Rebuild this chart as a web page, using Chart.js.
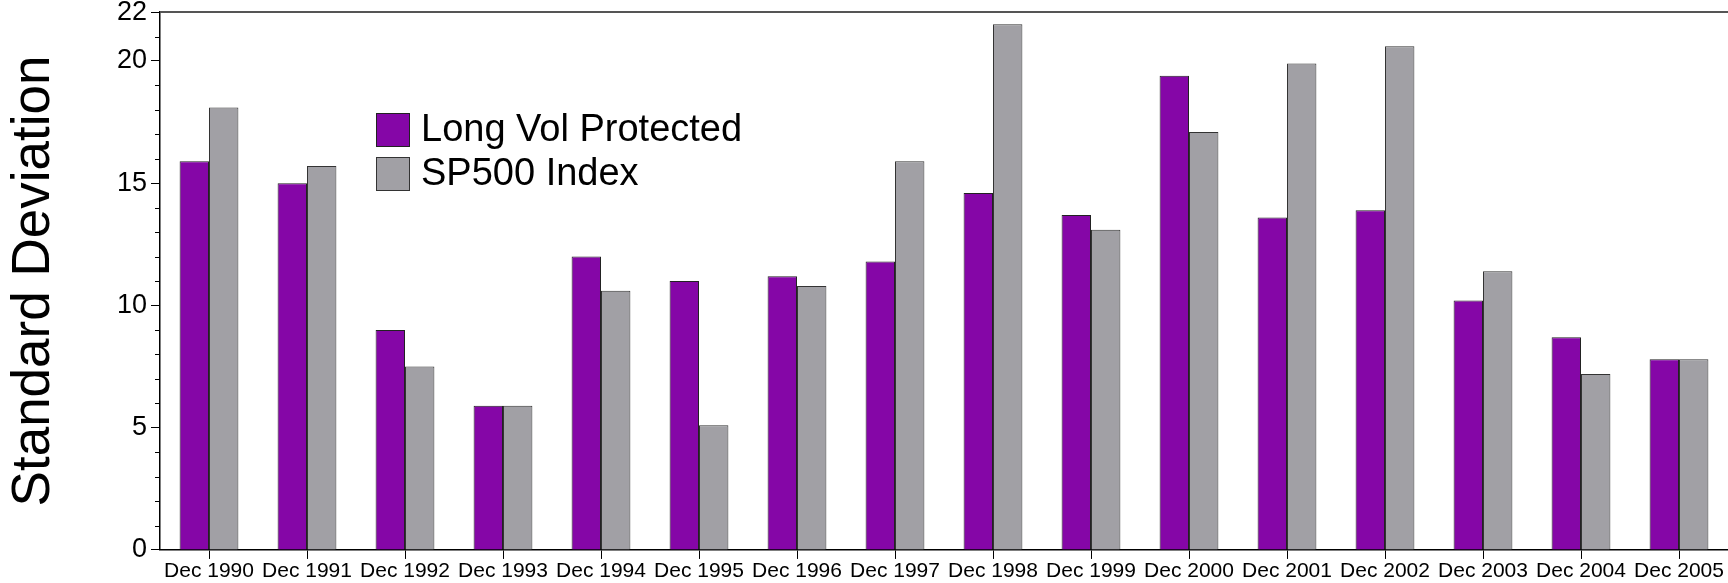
<!doctype html>
<html>
<head>
<title>Standard Deviation</title>
<script src="https://cdn.jsdelivr.net/npm/chart.js@4.4.0/dist/chart.umd.min.js"></script>
<style>
  body { margin: 0; background: #fff; }
</style>
</head>
<body>
<canvas id="chart-area" width="1728" height="583"></canvas>
<script>
var labels = ['Dec 1990', 'Dec 1991', 'Dec 1992', 'Dec 1993', 'Dec 1994', 'Dec 1995', 'Dec 1996', 'Dec 1997',
              'Dec 1998', 'Dec 1999', 'Dec 2000', 'Dec 2001', 'Dec 2002', 'Dec 2003', 'Dec 2004', 'Dec 2005'];
var longVol = [15.9, 15.0, 9.0, 5.9, 12.0, 11.0, 11.2, 11.8, 14.6, 13.7, 19.4, 13.6, 13.9, 10.2, 8.7, 7.8];
var sp500   = [18.1, 15.7, 7.5, 5.9, 10.6, 5.1, 10.8, 15.9, 21.5, 13.1, 17.1, 19.9, 20.6, 11.4, 7.2, 7.8];
var yMajor  = [0, 5, 10, 15, 20, 22];

var font = 'Liberation Sans, Arial, sans-serif';

// short minor ticks on the y axis, and the thin line along the top
var extras = {
    id: 'extras',
    afterDraw: function(chart) {
        var ctx = chart.ctx, y = chart.scales.y, area = chart.chartArea;
        ctx.save();
        ctx.strokeStyle = '#000';
        ctx.lineWidth = 1;
        for (var v = 1; v < 22; v++) {
            if (yMajor.indexOf(v) >= 0) continue;
            var py = Math.round(y.getPixelForValue(v)) + 0.5;
            ctx.beginPath();
            ctx.moveTo(area.left - 5, py);
            ctx.lineTo(area.left, py);
            ctx.stroke();
        }
        ctx.strokeStyle = '#555';
        ctx.lineWidth = 2;
        ctx.beginPath();
        ctx.moveTo(area.left, area.top);
        ctx.lineTo(chart.width, area.top);
        ctx.stroke();

        // legend inside the plot
        var boxX = 376, boxY = 113, box = 34, row = 44;
        ctx.font = '38px ' + font;
        ctx.textBaseline = 'middle';
        chart.data.datasets.forEach(function(ds, i) {
            var top = boxY + i * row;
            ctx.fillStyle = ds.backgroundColor;
            ctx.fillRect(boxX, top, box, box);
            ctx.strokeStyle = ds.borderColor;
            ctx.lineWidth = 1;
            ctx.strokeRect(boxX + 0.5, top + 0.5, box - 1, box - 1);
            ctx.fillStyle = '#000';
            ctx.fillText(ds.label, boxX + 45, top + box / 2 + 1);
        });
        ctx.restore();
    }
};

var config = {
    type: 'bar',
    data: {
        labels: labels,
        datasets: [{
            label: 'Long Vol Protected',
            data: longVol,
            backgroundColor: '#8506a7',
            borderColor: '#222',
            borderWidth: 1
        }, {
            label: 'SP500 Index',
            data: sp500,
            backgroundColor: '#a1a0a5',
            borderColor: '#333',
            borderWidth: 1
        }]
    },
    options: {
        responsive: false,
        animation: false,
        categoryPercentage: 0.6,
        barPercentage: 1.0,
        layout: { padding: { left: 0, right: 0, top: 0, bottom: 0 } },
        plugins: {
            legend: { display: false },
            tooltip: { enabled: false }
        },
        scales: {
            x: {
                grid: { offset: false, drawOnChartArea: false, drawTicks: true, tickLength: 9, color: '#000' },
                border: { color: '#000', width: 1.5 },
                ticks: { color: '#000', padding: 1, maxRotation: 0, autoSkip: false, font: { family: font, size: 21, lineHeight: 1.05 } }
            },
            y: {
                min: 0,
                max: 22,
                afterFit: function(scale) { scale.width = 160; },
                grid: {
                    drawOnChartArea: false,
                    drawTicks: true,
                    tickLength: 9,
                    tickColor: function(c) { return yMajor.indexOf(c.tick.value) >= 0 ? '#000' : 'rgba(0,0,0,0)'; }
                },
                border: { color: '#000', width: 1.5 },
                ticks: {
                    stepSize: 1,
                    autoSkip: false,
                    padding: 4,
                    color: '#000',
                    font: { family: font, size: 27, lineHeight: 0.6 },
                    callback: function(v) { return yMajor.indexOf(v) >= 0 ? v : ''; }
                },
                title: {
                    display: true,
                    text: 'Standard Deviation',
                    color: '#000',
                    padding: { top: 3, bottom: 0 },
                    font: { family: font, size: 53 }
                }
            }
        }
    },
    plugins: [extras]
};

window.onload = function() {
    var ctx = document.getElementById('chart-area').getContext('2d');
    window.myBar = new Chart(ctx, config);
};
</script>
</body>
</html>
